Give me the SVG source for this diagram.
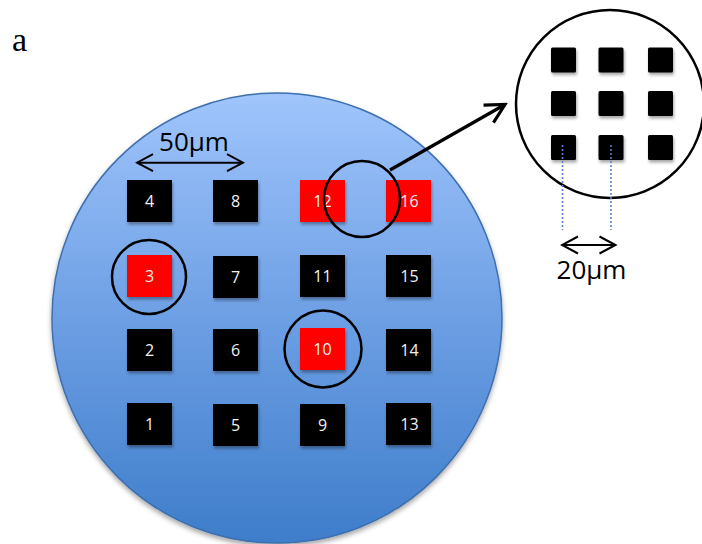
<svg xmlns="http://www.w3.org/2000/svg" width="702" height="544" viewBox="0 0 702 544">
<defs>
  <linearGradient id="gBlue" x1="0" y1="0" x2="0" y2="1">
    <stop offset="0" stop-color="#a0c5fc"/>
    <stop offset="0.5" stop-color="#6d9fe4"/>
    <stop offset="1" stop-color="#3e7dca"/>
  </linearGradient>
  <filter id="sh" x="-20%" y="-20%" width="140%" height="150%">
    <feDropShadow dx="1" dy="2.5" stdDeviation="1.8" flood-color="#000" flood-opacity="0.35"/>
  </filter>
  <filter id="shBig" x="-10%" y="-10%" width="120%" height="120%">
    <feDropShadow dx="0" dy="3" stdDeviation="2.5" flood-color="#000" flood-opacity="0.35"/>
  </filter>
  <marker id="thinHead" markerUnits="userSpaceOnUse" viewBox="-20 -12 22 24" refX="0" refY="0" markerWidth="22" markerHeight="24" orient="auto-start-reverse">
    <path d="M -16 -8.5 L 0 0 L -16 8.5" fill="none" stroke="#000" stroke-width="2"/>
  </marker>
  <marker id="bigHead" markerUnits="userSpaceOnUse" viewBox="-24 -14 27 28" refX="0" refY="0" markerWidth="27" markerHeight="28" orient="auto">
    <path d="M -19 -10 L 0 0 L -19 10" fill="none" stroke="#000" stroke-width="3.2" stroke-linejoin="miter"/>
  </marker>
</defs>
<style>
  .sq { fill: #000; filter: url(#sh); }
  .red { fill: #ff0000; filter: url(#sh); }
  .num { font-family: "Open Sans", "Liberation Sans", sans-serif; font-size: 16px; fill: #f2f2f2; text-anchor: middle; dominant-baseline: central; }
  .ring { fill: none; stroke: #000; stroke-width: 2.5; }
  .lbl { font-family: "Open Sans", "Liberation Sans", sans-serif; font-size: 26px; fill: #000; text-anchor: middle; }
  .dim { fill: none; stroke: #000; stroke-width: 2; }
  .dot { fill: none; stroke: #4f86cf; stroke-width: 1.6; stroke-dasharray: 2 2; }
  .zsq { fill: #000; filter: url(#sh); }
</style>

<text x="12" y="51" font-family="Liberation Serif, serif" font-size="34" fill="#000">a</text>

<g id="wafer">
  <circle cx="277" cy="318" r="225" fill="url(#gBlue)" stroke="#3d6fae" stroke-width="1.5" filter="url(#shBig)"/>
</g>

<g id="pad4"><rect class="sq" x="127" y="180" width="45" height="42"/><text class="num" x="149.5" y="201">4</text></g>
<g id="pad8"><rect class="sq" x="213" y="180" width="45" height="42"/><text class="num" x="235.5" y="201">8</text></g>
<g id="pad12"><rect class="red" x="300" y="180" width="45" height="42"/><text class="num" x="322.5" y="201">12</text></g>
<g id="pad16"><rect class="red" x="386" y="180" width="45" height="42"/><text class="num" x="409.5" y="201">16</text></g>

<g id="pad3"><rect class="red" x="127" y="255" width="45" height="42"/><text class="num" x="149.5" y="276">3</text></g>
<g id="pad7"><rect class="sq" x="213" y="256" width="45" height="42"/><text class="num" x="235.5" y="277">7</text></g>
<g id="pad11"><rect class="sq" x="300" y="255" width="45" height="42"/><text class="num" x="322.5" y="276">11</text></g>
<g id="pad15"><rect class="sq" x="386" y="255" width="45" height="42"/><text class="num" x="409.5" y="276">15</text></g>

<g id="pad2"><rect class="sq" x="127" y="329" width="45" height="42"/><text class="num" x="149.5" y="350">2</text></g>
<g id="pad6"><rect class="sq" x="213" y="329" width="45" height="42"/><text class="num" x="235.5" y="350">6</text></g>
<g id="pad10"><rect class="red" x="300" y="328" width="45" height="42"/><text class="num" x="322.5" y="349">10</text></g>
<g id="pad14"><rect class="sq" x="386" y="329" width="45" height="42"/><text class="num" x="409.5" y="350">14</text></g>

<g id="pad1"><rect class="sq" x="127" y="403" width="45" height="42"/><text class="num" x="149.5" y="424">1</text></g>
<g id="pad5"><rect class="sq" x="213" y="404" width="45" height="42"/><text class="num" x="235.5" y="425">5</text></g>
<g id="pad9"><rect class="sq" x="300" y="404" width="45" height="42"/><text class="num" x="322.5" y="425">9</text></g>
<g id="pad13"><rect class="sq" x="386" y="403" width="45" height="42"/><text class="num" x="409.5" y="424">13</text></g>

<g id="ring3"><circle class="ring" cx="149" cy="277" r="37"/></g>
<g id="ring10"><circle class="ring" cx="323" cy="349" r="38.5"/></g>
<g id="ring12-16"><circle class="ring" cx="362" cy="199" r="38"/></g>

<g id="zoomView">
  <circle cx="610" cy="104" r="94" fill="#fff" stroke="#000" stroke-width="2.5"/>
  <rect class="zsq" x="551" y="47.5" width="25" height="25" rx="1.5"/>
  <rect class="zsq" x="598.5" y="47.5" width="25" height="25" rx="1.5"/>
  <rect class="zsq" x="648" y="47.5" width="25" height="25" rx="1.5"/>
  <rect class="zsq" x="551" y="91" width="25" height="25" rx="1.5"/>
  <rect class="zsq" x="598.5" y="91" width="25" height="25" rx="1.5"/>
  <rect class="zsq" x="648" y="91" width="25" height="25" rx="1.5"/>
  <rect class="zsq" x="551" y="135" width="25" height="25" rx="1.5"/>
  <rect class="zsq" x="598.5" y="135" width="25" height="25" rx="1.5"/>
  <rect class="zsq" x="648" y="135" width="25" height="25" rx="1.5"/>
</g>

<g id="connectors">
  <line x1="390" y1="170" x2="505" y2="104.5" stroke="#000" stroke-width="3.2" marker-end="url(#bigHead)"/>
  <line class="dim" x1="137" y1="162.7" x2="243" y2="162.7" marker-start="url(#thinHead)" marker-end="url(#thinHead)"/>
  <line class="dot" x1="562.5" y1="145" x2="562.5" y2="230"/>
  <line class="dot" x1="611" y1="145" x2="611" y2="230"/>
  <line class="dim" x1="562" y1="245" x2="615.5" y2="245" marker-start="url(#thinHead)" marker-end="url(#thinHead)"/>
</g>

<text class="lbl" x="194" y="150.5">50µm</text>
<text class="lbl" x="591.5" y="279">20µm</text>
</svg>
